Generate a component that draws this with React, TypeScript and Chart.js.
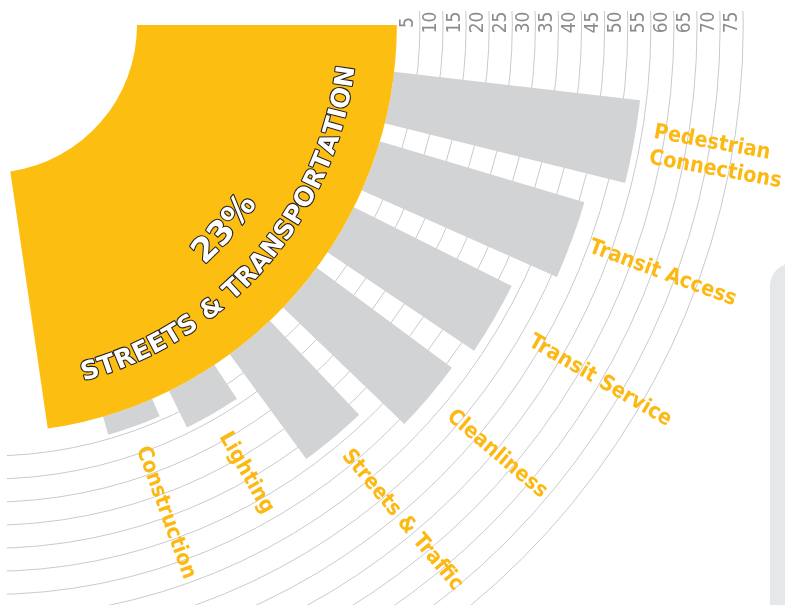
import React, { useEffect, useRef } from 'react';
import { Chart, registerables } from 'chart.js';

Chart.register(...registerables);

// ---------- data ----------
const categories = [
  'Pedestrian\nConnections',
  'Transit Access',
  'Transit Service',
  'Cleanliness',
  'Streets & Traffic',
  'Lighting',
  'Construction',
];
const values = [53.6, 46.2, 38.2, 36.4, 28.1, 8.8, 4.1];
const tickValues = [5, 10, 15, 20, 25, 30, 35, 40, 45, 50, 55, 60, 65, 70, 75];
const shareValue = 22.7; // share of the whole circle (%)
const shareLabel = '23%';
const shareTitle = 'STREETS & TRANSPORTATION';

// ---------- layout / style constants ----------
const VIEW_W = 785;
const VIEW_H = 605;
const CENTER_X = -11;
const CENTER_Y = 25;
const HALF = 800;
const CLIP_X = 7;
const CLIP_Y = 11;
const SCALE_MIN = -88.3;
const SCALE_MAX = 84.9;
const FIRST_OFFSET = 6.6;
const BAR_ANGLE = 7.35;
const GAP_ANGLE = 2.62;
const LABEL_PADS = [18, 19, 42, 27, 19, 23, 22];
const HOLE_RADIUS = 148;

const YELLOW = '#FDBE12';
const LABEL_COLOR = '#FDB913';
const BAR_COLOR = '#D1D3D4';
const GRID_COLOR = '#C9CACC';
const TICK_COLOR = '#8A8C8E';
const OUTLINE = '#231F20';
const PANEL_COLOR = '#E6E7E8';

// polar area table (bars separated by empty spacer sectors)
const polarData: (number | null)[] = [];
const polarAngles: number[] = [];
const polarColors: string[] = [];
const polarLabels: string[] = [];
values.forEach((v, i) => {
  polarData.push(null);
  polarAngles.push(i === 0 ? FIRST_OFFSET : GAP_ANGLE);
  polarColors.push('rgba(0,0,0,0)');
  polarLabels.push('');
  polarData.push(v);
  polarAngles.push(BAR_ANGLE);
  polarColors.push(BAR_COLOR);
  polarLabels.push(categories[i]);
});

function drawArcText(
  ctx: CanvasRenderingContext2D,
  text: string,
  cx: number,
  cy: number,
  midAngle: number,
  rCenter: number,
  font: string,
  capH: number
) {
  ctx.save();
  ctx.font = font;
  const chars = [...text];
  const widths = chars.map((ch) => ctx.measureText(ch).width);
  const total = widths.reduce((a, b) => a + b, 0);
  const rBase = rCenter + capH / 2;
  const placements: { ch: string; x: number; y: number; rot: number }[] = [];
  let acc = 0;
  chars.forEach((ch, i) => {
    const c = acc + widths[i] / 2;
    acc += widths[i];
    const phi = midAngle + (total / 2 - c) / rCenter;
    placements.push({
      ch,
      x: cx + rBase * Math.cos(phi),
      y: cy + rBase * Math.sin(phi),
      rot: phi - Math.PI / 2,
    });
  });
  ctx.textAlign = 'center';
  ctx.textBaseline = 'alphabetic';
  ctx.lineJoin = 'round';
  ctx.lineWidth = 2.2;
  ctx.strokeStyle = OUTLINE;
  ctx.fillStyle = '#ffffff';
  for (const pass of ['stroke', 'fill']) {
    placements.forEach((p) => {
      if (p.ch === ' ') return;
      ctx.save();
      ctx.translate(p.x, p.y);
      ctx.rotate(p.rot);
      if (pass === 'stroke') ctx.strokeText(p.ch, 0, 0);
      else ctx.fillText(p.ch, 0, 0);
      ctx.restore();
    });
  }
  ctx.restore();
}

const polarDecor = {
  id: 'polarDecor',
  beforeDatasetsDraw(chart: any) {
    const s = chart.scales.r;
    const ctx = chart.ctx as CanvasRenderingContext2D;
    const r0 = s.getDistanceFromCenterForValue(0);
    ctx.save();
    ctx.beginPath();
    ctx.rect(0, 0, chart.width, chart.height);
    ctx.moveTo(s.xCenter + r0, s.yCenter);
    ctx.arc(s.xCenter, s.yCenter, r0, 0, Math.PI * 2);
    ctx.clip('evenodd');
  },
  afterDatasetsDraw(chart: any) {
    const ctx = chart.ctx as CanvasRenderingContext2D;
    ctx.restore();
    const s = chart.scales.r;

    // tick labels (rotated, inside each ring band)
    ctx.save();
    ctx.fillStyle = TICK_COLOR;
    ctx.font = '19px "Liberation Sans Narrow", "DejaVu Sans Condensed", "Liberation Sans", sans-serif';
    ctx.textAlign = 'center';
    ctx.textBaseline = 'middle';
    tickValues.forEach((v) => {
      const r =
        (s.getDistanceFromCenterForValue(v) + s.getDistanceFromCenterForValue(v - 5)) / 2;
      ctx.save();
      ctx.translate(s.xCenter + r, s.yCenter - 2.5);
      ctx.rotate(-Math.PI / 2);
      ctx.fillText(String(v), 0, 0);
      ctx.restore();
    });
    ctx.restore();

    // category labels along each bar's direction
    const meta = chart.getDatasetMeta(0);
    ctx.save();
    ctx.fillStyle = LABEL_COLOR;
    ctx.font = 'bold 21.5px "DejaVu Sans Condensed", "Liberation Sans", Arial, sans-serif';
    ctx.textAlign = 'left';
    ctx.textBaseline = 'middle';
    categories.forEach((label, i) => {
      const arc = meta.data[2 * i + 1];
      const theta = (arc.startAngle + arc.endAngle) / 2;
      const r = arc.outerRadius + LABEL_PADS[i];
      const lines = label.split('\n');
      const lh = 26;
      ctx.save();
      ctx.translate(arc.x + r * Math.cos(theta), arc.y + r * Math.sin(theta));
      ctx.rotate(theta);
      lines.forEach((ln, j) => {
        ctx.fillText(ln, 0, (j - (lines.length - 1) / 2) * lh);
      });
      ctx.restore();
    });
    ctx.restore();
  },
};

const shareDecor = {
  id: 'shareDecor',
  afterDatasetsDraw(chart: any) {
    const ctx = chart.ctx as CanvasRenderingContext2D;
    const arc = chart.getDatasetMeta(0).data[0];
    const mid = (arc.startAngle + arc.endAngle) / 2;
    drawArcText(ctx, shareLabel, arc.x, arc.y, mid, 310, 'bold 33px "DejaVu Sans", sans-serif', 24);
    drawArcText(ctx, shareTitle, arc.x, arc.y, mid, 358.6, 'bold 25.5px "DejaVu Sans", sans-serif', 18.6);
  },
};

export default function App() {
  const polarRef = useRef<HTMLCanvasElement>(null);
  const shareRef = useRef<HTMLCanvasElement>(null);

  useEffect(() => {
    if (!polarRef.current || !shareRef.current) return;
    const polar = new Chart(polarRef.current, {
      type: 'polarArea',
      data: {
        labels: polarLabels,
        datasets: [
          {
            data: polarData as any,
            angle: ((c: any) => polarAngles[c.dataIndex]) as any,
            backgroundColor: (c: any) => polarColors[c.dataIndex],
            borderWidth: 0,
          } as any,
        ],
      },
      options: {
        responsive: false,
        animation: false,
        events: [],
        layout: { padding: 0 },
        plugins: { legend: { display: false }, tooltip: { enabled: false }, title: { display: false } },
        scales: {
          r: {
            min: SCALE_MIN,
            max: SCALE_MAX,
            startAngle: 90,
            afterBuildTicks: (axis: any) => {
              axis.ticks = [{ value: 0 }, ...tickValues.map((v) => ({ value: v }))];
            },
            ticks: { display: false },
            pointLabels: { display: false },
            angleLines: { display: false },
            grid: {
              circular: true,
              lineWidth: 1,
              color: (c: any) =>
                c.tick && tickValues.includes(c.tick.value) ? GRID_COLOR : 'rgba(0,0,0,0)',
            },
          } as any,
        },
      },
      plugins: [polarDecor],
    });

    const outer = (polar.scales.r as any).getDistanceFromCenterForValue(0);
    const share = new Chart(shareRef.current, {
      type: 'doughnut',
      data: {
        labels: ['Streets & Transportation', 'Other'],
        datasets: [
          {
            data: [shareValue, 100 - shareValue],
            backgroundColor: [YELLOW, 'rgba(0,0,0,0)'],
            borderWidth: 0,
          },
        ],
      },
      options: {
        responsive: false,
        animation: false,
        events: [],
        rotation: 90,
        radius: outer,
        cutout: (HOLE_RADIUS / outer) * 100 + '%',
        plugins: { legend: { display: false }, tooltip: { enabled: false }, title: { display: false } },
      } as any,
      plugins: [shareDecor],
    });

    return () => {
      polar.destroy();
      share.destroy();
    };
  }, []);

  const canvasStyle: React.CSSProperties = {
    position: 'absolute',
    left: CENTER_X - HALF - CLIP_X,
    top: CENTER_Y - HALF - CLIP_Y,
    width: HALF * 2,
    height: HALF * 2,
  };

  return (
    <div
      style={{
        position: 'fixed',
        left: 0,
        top: 0,
        width: VIEW_W,
        height: VIEW_H,
        overflow: 'hidden',
        background: '#ffffff',
      }}
    >
      <div
        style={{
          position: 'absolute',
          left: CLIP_X,
          top: CLIP_Y,
          width: VIEW_W - CLIP_X,
          height: VIEW_H - CLIP_Y,
          overflow: 'hidden',
        }}
      >
        <canvas ref={polarRef} width={HALF * 2} height={HALF * 2} style={canvasStyle} />
        <canvas ref={shareRef} width={HALF * 2} height={HALF * 2} style={canvasStyle} />
      </div>
      <div
        style={{
          position: 'absolute',
          left: 770,
          top: 263,
          width: 40,
          height: 400,
          background: PANEL_COLOR,
          borderTopLeftRadius: 23,
        }}
      />
    </div>
  );
}
